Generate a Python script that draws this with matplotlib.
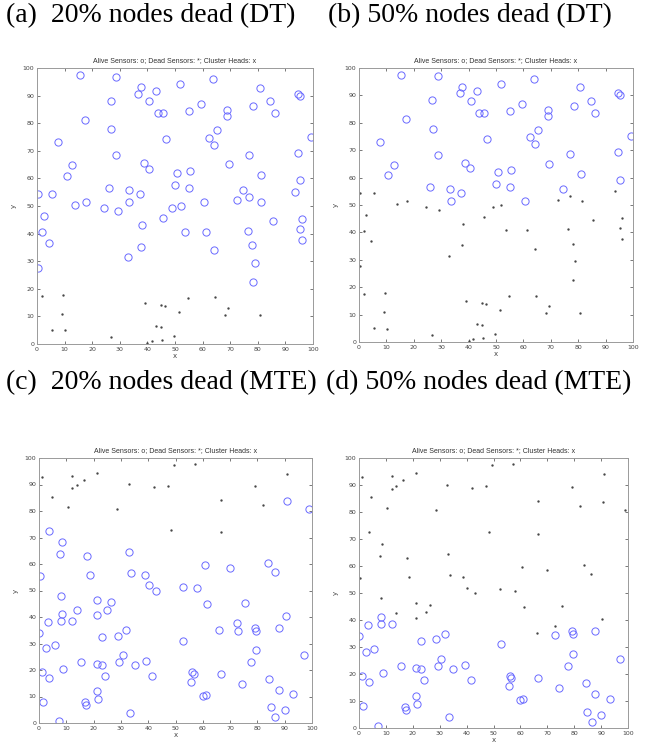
import matplotlib
matplotlib.use("Agg")
import matplotlib.pyplot as plt

# Node positions for the DT runs (same field in (a) and (b))
dt_x = [15.4, 28.8, 63.7, 51.7, 37.7, 36.7, 43.0, 40.7, 26.7, 80.7,
        94.5, 95.4, 84.6, 59.5, 78.3, 43.9, 45.8, 55.1, 68.9, 68.9,
        86.1, 17.3, 26.9, 65.2, 7.6, 46.6, 62.3, 64.3, 99.2, 28.8,
        76.9, 94.7, 12.7, 38.8, 40.5, 69.4, 10.7, 50.6, 55.3, 81.1,
        95.3, 26.0, 33.3, 37.3, 50.1, 55.2, 74.6, 33.4, 60.6,
        0.2, 5.3, 76.9, 93.6, 13.7, 17.7, 24.3, 29.3, 2.4, 1.7,
        4.3, 0.2, 38.0, 37.7, 33.0, 45.8, 48.9, 52.0, 53.5, 61.4,
        64.2, 72.5, 76.4, 78.0, 78.9, 78.1, 81.3, 85.5, 95.4, 96.1, 96.1,
        1.9, 9.6, 9.0, 5.5, 10.1, 26.7, 39.0, 40.0, 41.6, 43.0,
        44.8, 44.9, 46.5, 45.4, 49.5, 51.3, 54.6, 64.5, 68.2, 69.2, 80.8]
dt_y = [97.3, 96.9, 96.0, 94.1, 93.1, 90.7, 91.6, 88.1, 88.2, 92.9,
        90.7, 90.0, 88.0, 87.0, 86.3, 83.6, 83.7, 84.3, 84.7, 82.5,
        83.7, 81.3, 77.8, 77.5, 73.1, 74.2, 74.8, 72.2, 75.1, 68.3,
        68.6, 69.2, 64.7, 65.5, 63.5, 65.1, 60.8, 62.0, 62.8, 61.2,
        59.3, 56.6, 55.7, 54.3, 57.6, 56.4, 55.9, 51.6, 51.4,
        54.5, 54.5, 53.4, 55.2, 50.4, 51.4, 49.4, 48.2, 46.4, 40.5,
        36.7, 27.6, 43.1, 35.3, 31.4, 45.8, 49.2, 50.1, 40.7, 40.7,
        33.9, 52.0, 41.1, 35.9, 29.4, 22.5, 51.4, 44.6, 41.6, 45.4, 37.6,
        17.5, 17.8, 10.8, 5.0, 4.9, 2.4, 14.8, 0.4, 1.0, 6.5,
        6.1, 14.3, 13.7, 1.3, 3.0, 11.5, 16.7, 16.9, 10.6, 13.2, 10.5]
# 1 = dead
dt_dead_20 = [0] * 80 + [1] * 21
dt_dead_50 = [0] * 49 + [1] * 52

# Node positions for the MTE runs (same field in (c) and (d))
mte_x = [0.1, 1.2, 1.5, 2.7, 3.2, 3.7, 5.7, 7.2, 8.0, 8.3,
         8.9, 12.1, 15.5, 17.0, 17.3, 21.1, 21.3, 21.7, 22.9, 23.2,
         24.3, 28.8, 29.3, 30.6, 31.8, 33.5, 35.1, 39.3, 41.5, 52.7,
         55.7, 56.6, 56.2, 59.9, 61.1, 66.5, 73.0, 74.3, 77.7, 79.0,
         79.4, 79.6, 84.3, 84.8, 86.5, 87.8, 87.8, 90.0, 93.2, 97.1,
         3.8, 8.4, 7.8, 17.7, 32.9, 60.7, 70.0, 83.7, 90.7, 98.8,
         0.4, 18.7, 33.8, 38.8, 40.2, 43.0, 52.6, 58.0, 86.3, 8.0,
         13.8, 21.1, 21.3, 24.8, 26.5, 61.5, 66.0, 72.7, 75.5, 90.4,
         1.1, 4.6, 10.5, 12.1, 12.1, 13.8, 16.5, 21.2, 28.7, 32.8,
         42.0, 47.3, 48.3, 49.4, 57.1, 66.7, 66.7, 79.0, 82.2, 91.0]
mte_y = [34.1, 19.1, 8.1, 28.3, 38.3, 17.0, 29.4, 0.8, 38.5, 41.0,
         20.3, 38.6, 23.1, 7.8, 6.8, 22.1, 11.9, 9.0, 32.4, 21.8,
         17.9, 33.0, 23.1, 25.5, 35.0, 3.9, 21.8, 23.4, 17.9, 31.0,
         15.4, 18.6, 19.4, 10.3, 10.6, 18.5, 34.6, 14.9, 23.0, 36.0,
         34.8, 27.4, 16.6, 6.1, 2.3, 35.9, 12.5, 4.9, 10.8, 25.5,
         72.6, 68.3, 63.8, 63.1, 64.4, 59.7, 58.4, 60.5, 83.6, 80.8,
         55.4, 55.9, 56.5, 55.8, 52.0, 49.9, 51.4, 50.9, 56.9, 48.0,
         42.6, 46.3, 40.9, 42.8, 45.6, 44.9, 35.1, 37.9, 45.3, 40.3,
         93.0, 85.4, 81.6, 93.2, 88.6, 89.7, 91.7, 94.3, 80.8, 90.1,
         88.9, 89.6, 72.7, 97.5, 97.7, 84.2, 71.9, 89.3, 82.1, 94.0]
mte_dead_20 = [0] * 80 + [1] * 20
mte_dead_50 = [0] * 50 + [1] * 50

captions = ["(a)  20% nodes dead (DT)", "(b) 50% nodes dead (DT)",
            "(c)  20% nodes dead (MTE)", "(d) 50% nodes dead (MTE)"]
ticks = [0, 10, 20, 30, 40, 50, 60, 70, 80, 90, 100]

W, H = 649, 743
fig = plt.figure(figsize=(W / 100, H / 100), dpi=100)

# axes boxes in pixels: left, top, right, bottom
boxes = [(37, 68, 313, 344), (359, 68, 633, 342),
         (39, 458, 312, 723), (359, 458, 628, 728)]
panels = [(dt_x, dt_y, dt_dead_20), (dt_x, dt_y, dt_dead_50),
          (mte_x, mte_y, mte_dead_20), (mte_x, mte_y, mte_dead_50)]
caption_pos = [(6, 16), (328, 16), (6, 383), (326, 383)]

for box, (xs, ys, dead), cap, cpos in zip(boxes, panels, captions, caption_pos):
    l, t, r, b = box
    ax = fig.add_axes([l / W, 1 - b / H, (r - l) / W, (b - t) / H])
    ax_x = [x for x, d in zip(xs, dead) if not d]
    ax_y = [y for y, d in zip(ys, dead) if not d]
    dx = [x for x, d in zip(xs, dead) if d]
    dy = [y for y, d in zip(ys, dead) if d]
    ax.plot(ax_x, ax_y, 'o', ms=5.2, mfc='none', mec='#6a6aff', mew=0.7)
    ax.plot(dx, dy, '.', ms=1.4, color='#444444')
    ax.set_xlim(0, 100)
    ax.set_ylim(0, 100)
    ax.set_xticks(ticks)
    ax.set_yticks(ticks)
    ax.tick_params(direction='in', length=2, width=0.5, top=True, right=True,
                   labelsize=4.5, colors='#444444', pad=2)
    for s in ax.spines.values():
        s.set_color('#9a9a9a')
        s.set_linewidth(0.7)
    ax.set_title("Alive Sensors: o; Dead Sensors: *; Cluster Heads: x",
                 fontsize=5, family='Liberation Sans', color='#333333', pad=4)
    ax.set_xlabel("x", fontsize=5, color='#444444', labelpad=1)
    ax.set_ylabel("y", fontsize=5, color='#444444', labelpad=4)
    fig.text(cpos[0] / W, 1 - cpos[1] / H, cap, fontsize=20,
             family='Liberation Serif', va='center', ha='left')

fig.savefig("out.png", dpi=100)
